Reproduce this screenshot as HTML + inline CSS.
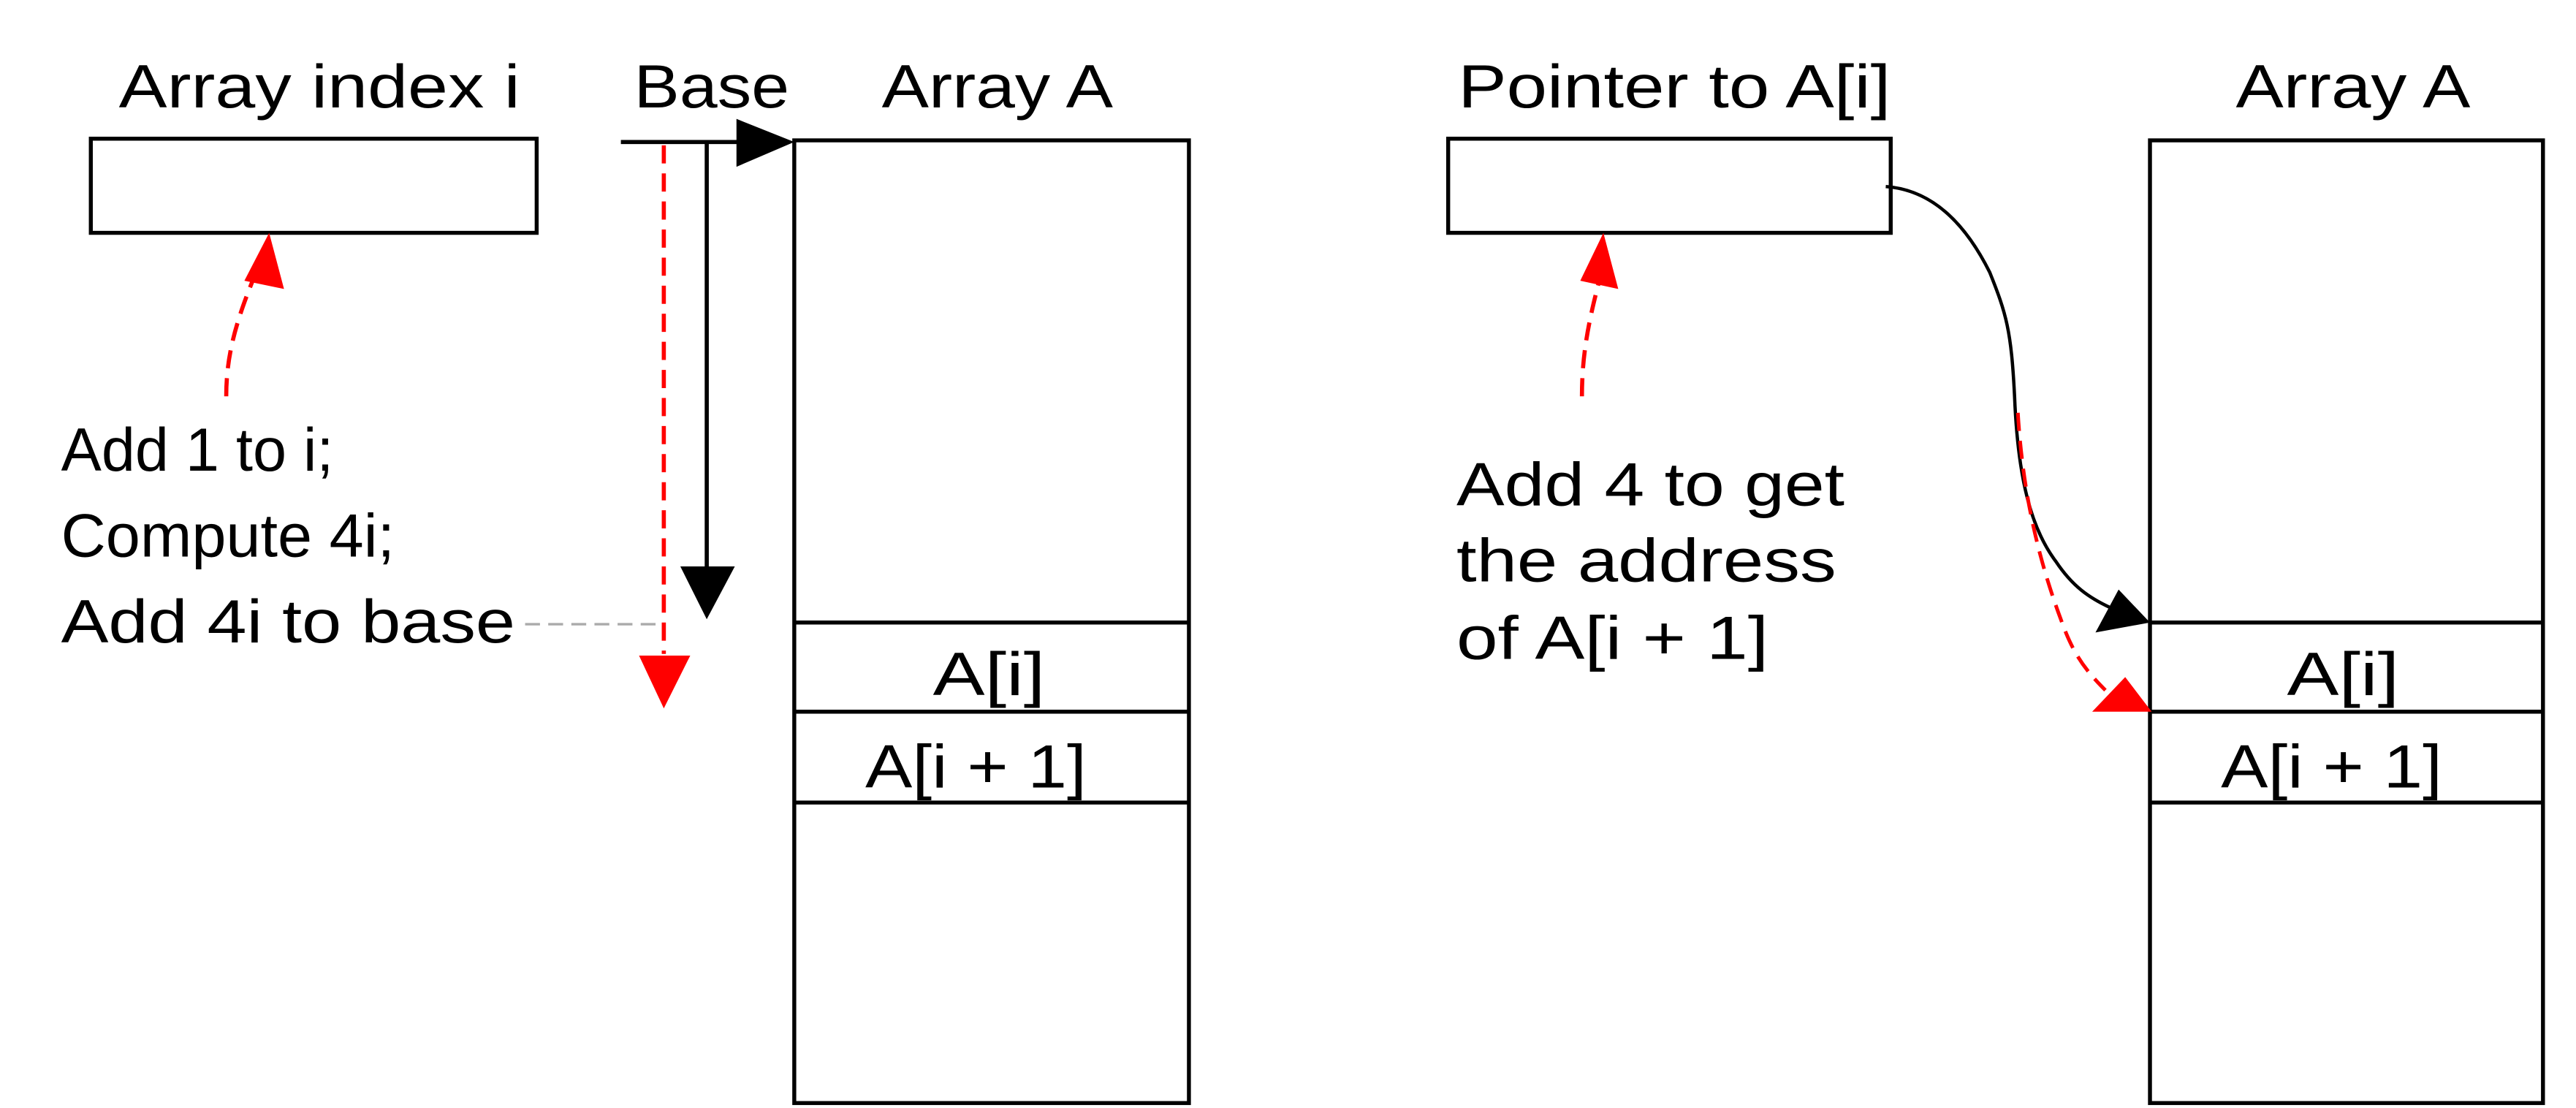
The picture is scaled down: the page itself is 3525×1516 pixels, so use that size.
<!DOCTYPE html>
<html><head><meta charset="utf-8"><style>
html,body{margin:0;padding:0;background:#fff;}
svg{display:block;}
text{font-family:"Liberation Sans",sans-serif;font-size:37px;fill:#000;}
</style></head><body>
<svg width="3525" height="1516" viewBox="0 0 1560 671" preserveAspectRatio="none">
<!-- LEFT -->
<g>
<text x="72" y="65" textLength="243" lengthAdjust="spacingAndGlyphs">Array index i</text>
<rect x="55" y="84" width="270" height="57" fill="none" stroke="#000" stroke-width="2.4"/>
<text x="384" y="65" textLength="94" lengthAdjust="spacingAndGlyphs">Base</text>
<text x="534" y="65" textLength="140" lengthAdjust="spacingAndGlyphs">Array A</text>
<g fill="none" stroke="#000" stroke-width="2.4">
<rect x="481" y="85" width="239" height="583"/>
<line x1="481" y1="377" x2="720" y2="377"/>
<line x1="481" y1="431" x2="720" y2="431"/>
<line x1="481" y1="486" x2="720" y2="486"/>
</g>
<text x="565" y="421" textLength="68" lengthAdjust="spacingAndGlyphs">A[i]</text>
<text x="524" y="477" textLength="134" lengthAdjust="spacingAndGlyphs">A[i + 1]</text>
<line x1="376" y1="86" x2="448" y2="86" stroke="#000" stroke-width="2.5"/>
<path d="M446,72L481,86L446,101z" fill="#000"/>
<line x1="428" y1="86" x2="428" y2="345" stroke="#000" stroke-width="2.5"/>
<path d="M412,343L445,343L428,375z" fill="#000"/>
<line x1="402" y1="88" x2="402" y2="396" stroke="#f00" stroke-width="2.5" stroke-dasharray="11,6"/>
<path d="M387,397L418,397L402,429z" fill="#f00"/>
<line x1="318" y1="378" x2="400" y2="378" stroke="#aaa" stroke-width="1.5" stroke-dasharray="9,5"/>
<path d="M137,240C137,215 143,195 153,170" fill="none" stroke="#f00" stroke-width="2.5" stroke-dasharray="11,6"/>
<path d="M148,170L172,175L163,141z" fill="#f00"/>
<text x="37" y="285" textLength="165" lengthAdjust="spacingAndGlyphs">Add 1 to i;</text>
<text x="37" y="337" textLength="202" lengthAdjust="spacingAndGlyphs">Compute 4i;</text>
<text x="37" y="389" textLength="275" lengthAdjust="spacingAndGlyphs">Add 4i to base</text>
</g>
<!-- RIGHT -->
<g>
<text x="883" y="65" textLength="262" lengthAdjust="spacingAndGlyphs">Pointer to A[i]</text>
<rect x="877" y="84" width="268" height="57" fill="none" stroke="#000" stroke-width="2.4"/>
<text x="1354" y="65" textLength="142" lengthAdjust="spacingAndGlyphs">Array A</text>
<g fill="none" stroke="#000" stroke-width="2.4">
<rect x="1302" y="85" width="238" height="583"/>
<line x1="1302" y1="377" x2="1540" y2="377"/>
<line x1="1302" y1="431" x2="1540" y2="431"/>
<line x1="1302" y1="486" x2="1540" y2="486"/>
</g>
<text x="1385" y="421" textLength="68" lengthAdjust="spacingAndGlyphs">A[i]</text>
<text x="1345" y="477" textLength="134" lengthAdjust="spacingAndGlyphs">A[i + 1]</text>
<path d="M1142,113C1170,115 1190,135 1205,165C1215,190 1218,200 1220,240C1222,290 1230,320 1245,340C1255,355 1265,362 1278,368" fill="none" stroke="#000" stroke-width="2"/>
<path d="M1269,383L1283,357L1302,377z" fill="#000"/>
<path d="M1222,250C1225,300 1235,340 1248,375C1255,395 1262,405 1275,418" fill="none" stroke="#f00" stroke-width="2.2" stroke-dasharray="11,6"/>
<path d="M1267,431L1287,410L1303,431z" fill="#f00"/>
<path d="M958,240C958,215 962,195 968,172" fill="none" stroke="#f00" stroke-width="2.5" stroke-dasharray="11,6"/>
<path d="M957,170L980,175L971,141z" fill="#f00"/>
<text x="882" y="306" textLength="235" lengthAdjust="spacingAndGlyphs">Add 4 to get</text>
<text x="882" y="352" textLength="230" lengthAdjust="spacingAndGlyphs">the address</text>
<text x="882" y="399" textLength="189" lengthAdjust="spacingAndGlyphs">of A[i + 1]</text>
</g>
</svg>
</body></html>
